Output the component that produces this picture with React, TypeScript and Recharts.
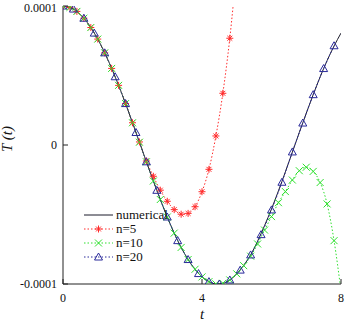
import { LineChart, Line, XAxis, YAxis, Legend } from 'recharts';

// values are in units of 1e-4
const SCALE = 1e-4;

const tNumerical = [
  0, 0.2, 0.4, 0.6, 0.8, 1.0, 1.2, 1.4, 1.6, 1.8, 2.0, 2.2, 2.4, 2.6, 2.8, 3.0, 3.2, 3.4, 3.6, 3.8, 4.0,
  4.2, 4.4, 4.6, 4.8, 5.0, 5.2, 5.4, 5.6, 5.8, 6.0, 6.2, 6.4, 6.6, 6.8, 7.0, 7.2, 7.4, 7.6, 7.8, 8.0,
];
const numerical = [
  1.0, 0.99, 0.961, 0.912, 0.845, 0.762, 0.663, 0.551, 0.429, 0.298, 0.16, 0.02, -0.121, -0.259, -0.392,
  -0.518, -0.634, -0.737, -0.824, -0.894, -0.949, -0.983, -0.999, -0.995, -0.971, -0.927, -0.865, -0.791,
  -0.692, -0.58, -0.46, -0.33, -0.193, -0.052, 0.09, 0.228, 0.362, 0.49, 0.607, 0.712, 0.805,
];

const tN5 = [
  0, 0.2, 0.4, 0.6, 0.8, 1.0, 1.2, 1.4, 1.6, 1.8, 2.0, 2.2, 2.4, 2.6, 2.8, 3.0, 3.2, 3.4, 3.6, 3.8, 4.0,
  4.2, 4.4, 4.6, 4.8, 5.0,
];
const n5 = [
  1.0, 0.99, 0.961, 0.912, 0.845, 0.762, 0.663, 0.551, 0.429, 0.298, 0.16, 0.022, -0.115, -0.225, -0.325,
  -0.405, -0.465, -0.498, -0.492, -0.444, -0.336, -0.175, 0.065, 0.372, 0.768, 1.28,
];

const tN10 = tNumerical;
const n10 = [
  1.0, 0.99, 0.961, 0.912, 0.845, 0.762, 0.663, 0.551, 0.429, 0.298, 0.16, 0.02, -0.121, -0.259, -0.392,
  -0.518, -0.634, -0.737, -0.824, -0.894, -0.949, -0.983, -0.999, -0.995, -0.971, -0.927, -0.868, -0.8,
  -0.712, -0.612, -0.515, -0.415, -0.335, -0.252, -0.185, -0.16, -0.19, -0.27, -0.424, -0.688, -1.05,
];

const tN20 = [
  0, 0.3, 0.6, 0.9, 1.2, 1.5, 1.8, 2.1, 2.4, 2.7, 3.0, 3.3, 3.6, 3.9, 4.2, 4.5, 4.8, 5.1, 5.4, 5.7, 6.0,
  6.3, 6.6, 6.9, 7.2, 7.5, 7.8,
];
const n20 = [
  1.0, 0.978, 0.912, 0.805, 0.663, 0.491, 0.298, 0.09, -0.121, -0.326, -0.518, -0.688, -0.824, -0.925,
  -0.983, -1.0, -0.971, -0.9, -0.791, -0.645, -0.467, -0.268, -0.05, 0.158, 0.362, 0.55, 0.714,
];

const xTicks = [0, 4, 8];
const yTicks = [-SCALE, 0, SCALE];

const toPoints = (ts: number[], vs: number[]) => ts.map((t, i) => ({ t, v: vs[i] * SCALE }));

const RED = '#ff2a2a';
const GREEN = '#2ee02e';
const BLUE = '#2a2a9a';
const BLACK = '#1a1a2a';
const FONT = "'Liberation Serif', 'DejaVu Serif', serif";

const Star = ({ cx, cy }: { cx: number; cy: number }) => {
  const r = 3.5;
  const d = r * 0.7;
  return (
    <g stroke={RED} strokeWidth={1}>
      <line x1={cx - r} y1={cy} x2={cx + r} y2={cy} />
      <line x1={cx} y1={cy - r} x2={cx} y2={cy + r} />
      <line x1={cx - d} y1={cy - d} x2={cx + d} y2={cy + d} />
      <line x1={cx - d} y1={cy + d} x2={cx + d} y2={cy - d} />
    </g>
  );
};

const Cross = ({ cx, cy }: { cx: number; cy: number }) => {
  const r = 3.5;
  return (
    <g stroke={GREEN} strokeWidth={1}>
      <line x1={cx - r} y1={cy - r} x2={cx + r} y2={cy + r} />
      <line x1={cx - r} y1={cy + r} x2={cx + r} y2={cy - r} />
    </g>
  );
};

const Tri = ({ cx, cy }: { cx: number; cy: number }) => (
  <path
    d={`M${cx},${cy - 4} L${cx + 4},${cy + 3} L${cx - 4},${cy + 3} Z`}
    fill="none"
    stroke={BLUE}
    strokeWidth={1}
  />
);

const legendRows = [
  { label: 'numerical', color: BLACK, dash: undefined, Marker: null },
  { label: 'n=5', color: RED, dash: '1.5 2', Marker: Star },
  { label: 'n=10', color: GREEN, dash: '1.5 2', Marker: Cross },
  { label: 'n=20', color: BLUE, dash: '1.5 2', Marker: Tri },
];

const renderLegend = () => (
  <svg width={100} height={56}>
    {legendRows.map((row, i) => {
      const y = 7 + i * 14;
      const M = row.Marker;
      return (
        <g key={row.label}>
          <line x1={2} y1={y} x2={31} y2={y} stroke={row.color} strokeWidth={1} strokeDasharray={row.dash} />
          {M && <M cx={16.5} cy={y} />}
          <text x={34} y={y + 4} fill="#111" fontFamily={FONT} style={{ fontSize: 13, fontFamily: FONT }}>
            {row.label}
          </text>
        </g>
      );
    })}
  </svg>
);

const tickStyle = { fontSize: 12, fill: '#111', fontFamily: FONT };

export default function App() {
  return (
    <div style={{ position: 'absolute', left: 0, top: 0, background: '#fff', fontFamily: FONT }}>
      <LineChart width={347} height={323} margin={{ top: 6, right: 6, left: 0, bottom: 0 }} style={{ fontFamily: FONT }}>
        <XAxis
          xAxisId="b"
          dataKey="t"
          type="number"
          domain={[0, 8]}
          ticks={xTicks}
          allowDataOverflow
          height={39}
          stroke="#222"
          tick={tickStyle}
          tickSize={-5}
          tickMargin={14}
          label={({ viewBox }: any) => (
            <text
              x={viewBox.x + viewBox.width / 2}
              y={viewBox.y + viewBox.height - 4}
              textAnchor="middle"
              fill="#111"
              fontFamily={FONT}
              style={{ fontSize: 15, fontStyle: 'italic', fontFamily: FONT }}
            >
              t
            </text>
          )}
        />
        <XAxis
          xAxisId="top"
          dataKey="t"
          type="number"
          orientation="top"
          domain={[0, 8]}
          ticks={xTicks}
          allowDataOverflow
          height={0}
          stroke="#222"
          tickSize={-5}
          tickFormatter={() => ''}
        />
        <YAxis
          yAxisId="l"
          type="number"
          domain={[-SCALE, SCALE]}
          ticks={yTicks}
          allowDataOverflow
          width={63}
          stroke="#222"
          tick={tickStyle}
          tickSize={-5}
          tickMargin={11}
          tickFormatter={(v: number) => String(v)}
          label={({ viewBox }: any) => (
            <text
              transform={`translate(12, ${viewBox.y + viewBox.height / 2 - 6}) rotate(-90)`}
              textAnchor="middle"
              fill="#111"
              fontFamily={FONT}
              style={{ fontSize: 15, fontStyle: 'italic', fontFamily: FONT }}
            >
              T (t)
            </text>
          )}
        />
        <YAxis
          yAxisId="r"
          orientation="right"
          type="number"
          domain={[-SCALE, SCALE]}
          ticks={yTicks}
          allowDataOverflow
          width={0}
          stroke="#222"
          tickSize={-5}
          tickFormatter={() => ''}
        />
        <Legend
          content={renderLegend}
          layout="horizontal"
          verticalAlign="middle"
          align="center"
          width={100}
          wrapperStyle={{ left: 82, top: 208, width: 100, height: 56 }}
        />
        <Line
          xAxisId="b"
          yAxisId="l"
          data={toPoints(tNumerical, numerical)}
          dataKey="v"
          type="monotone"
          stroke={BLACK}
          strokeWidth={1}
          dot={false}
          isAnimationActive={false}
        />
        <Line
          xAxisId="b"
          yAxisId="l"
          data={toPoints(tN5, n5)}
          dataKey="v"
          type="monotone"
          stroke={RED}
          strokeWidth={1}
          strokeDasharray="1.5 2"
          dot={(p: any) => <Star key={`s${p.index}`} cx={p.cx} cy={p.cy} />}
          isAnimationActive={false}
        />
        <Line
          xAxisId="b"
          yAxisId="l"
          data={toPoints(tN10, n10)}
          dataKey="v"
          type="monotone"
          stroke={GREEN}
          strokeWidth={1}
          strokeDasharray="1.5 2"
          dot={(p: any) => <Cross key={`c${p.index}`} cx={p.cx} cy={p.cy} />}
          isAnimationActive={false}
        />
        <Line
          xAxisId="b"
          yAxisId="l"
          data={toPoints(tN20, n20)}
          dataKey="v"
          type="monotone"
          stroke={BLUE}
          strokeWidth={1}
          strokeDasharray="1.5 2"
          dot={(p: any) => <Tri key={`t${p.index}`} cx={p.cx} cy={p.cy} />}
          isAnimationActive={false}
        />
      </LineChart>
    </div>
  );
}
